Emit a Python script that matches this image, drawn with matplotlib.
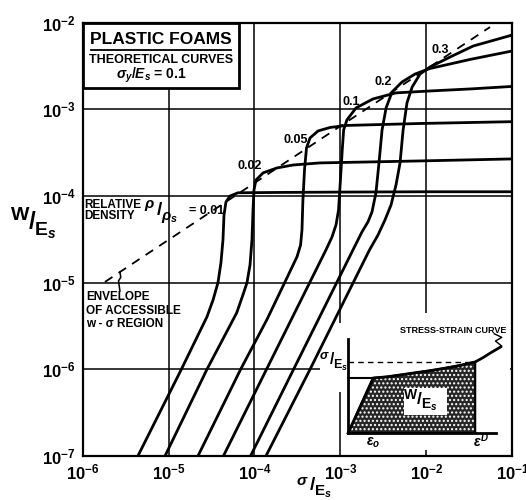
import matplotlib
matplotlib.use('Agg')
import matplotlib.pyplot as plt
from matplotlib import font_manager
from matplotlib.patches import Rectangle, Polygon

# condensed lettering if available
names = {f.name for f in font_manager.fontManager.ttflist}
face = 'Liberation Sans Narrow' if 'Liberation Sans Narrow' in names else 'Liberation Sans'
plt.rcParams['font.family'] = [face, 'DejaVu Sans']
plt.rcParams['font.weight'] = 'bold'
plt.rcParams['mathtext.fontset'] = 'custom'
plt.rcParams['mathtext.rm'] = face + ':bold'
plt.rcParams['mathtext.it'] = face + ':italic:bold'
plt.rcParams['mathtext.bf'] = face + ':bold'

# energy absorbed W/Es against peak stress sigma/Es, one curve per relative density
densities = ['0.01', '0.02', '0.05', '0.1', '0.2', '0.3']

sig_001 = [4.4e-6, 1.41e-5, 2.8e-5, 3.3e-5, 3.76e-5, 4.07e-5, 4.3e-5, 4.42e-5, 4.66e-5,
           5.19e-5, 6.43e-5, 2.0e-4, 1e-3, 1e-2, 1e-1]
w_001 = [1e-7, 1e-6, 4.04e-6, 6.34e-6, 1.0e-5, 1.69e-5, 3.12e-5, 6.05e-5, 8.55e-5,
         1.0e-4, 1.09e-4, 1.10e-4, 1.11e-4, 1.12e-4, 1.12e-4]

sig_002 = [9.1e-6, 2.8e-5, 6.21e-5, 7.34e-5, 8.18e-5, 8.87e-5, 9.35e-5, 9.62e-5, 9.86e-5,
           1.04e-4, 1.26e-4, 1.83e-4, 2.81e-4, 5.78e-4, 8.45e-3, 1e-1]
w_002 = [1e-7, 1e-6, 4.49e-6, 7.23e-6, 1.0e-5, 1.6e-5, 3.12e-5, 6.92e-5, 1.17e-4,
         1.53e-4, 1.85e-4, 2.11e-4, 2.28e-4, 2.41e-4, 2.54e-4, 2.68e-4]

sig_005 = [2.2e-5, 6.9e-5, 1.39e-4, 2.42e-4, 3.13e-4, 3.44e-4, 3.57e-4, 3.66e-4, 3.82e-4,
           4.03e-4, 4.43e-4, 5.48e-4, 7.57e-4, 1.16e-3, 8.45e-3, 1e-1]
w_005 = [1e-7, 1e-6, 3.72e-6, 1.17e-5, 2.0e-5, 2.73e-5, 4.06e-5, 9.0e-5, 2.0e-4,
         3.59e-4, 4.68e-4, 5.63e-4, 6.18e-4, 6.52e-4, 6.87e-4, 7.21e-4]

sig_01 = [4.35e-5, 1.38e-4, 6.79e-4, 7.98e-4, 8.89e-4, 9.51e-4, 1.0e-3, 1.05e-3, 1.09e-3,
          1.19e-3, 1.52e-3, 2.4e-3, 4.43e-3, 1.1e-2, 3.23e-2, 1e-1]
w_01 = [1e-7, 1e-6, 2.39e-5, 3.37e-5, 4.65e-5, 6.92e-5, 1.53e-4, 3.4e-4, 5.78e-4,
        7.55e-4, 1.04e-3, 1.32e-3, 1.55e-3, 1.63e-3, 1.72e-3, 1.84e-3]

sig_02 = [9.0e-5, 2.85e-4, 1.4e-3, 1.78e-3, 2.09e-3, 2.33e-3, 2.59e-3, 2.81e-3, 3.05e-3,
          3.4e-3, 3.99e-3, 5.21e-3, 7.4e-3, 1.1e-2, 3.23e-2, 1e-1]
w_02 = [1e-7, 1e-6, 2.39e-5, 3.85e-5, 5.02e-5, 6.55e-5, 1.09e-4, 2.41e-4, 5.78e-4,
        1.04e-3, 1.59e-3, 2.07e-3, 2.56e-3, 2.96e-3, 3.77e-3, 4.72e-3]

sig_03 = [1.36e-4, 4.43e-4, 2.18e-3, 2.74e-3, 3.3e-3, 3.88e-3, 4.43e-3, 4.94e-3, 5.36e-3,
          5.95e-3, 6.83e-3, 8.45e-3, 1.1e-2, 1.89e-2, 3.5e-2, 1e-1]
w_03 = [1e-7, 1e-6, 2.39e-5, 3.56e-5, 5.3e-5, 7.89e-5, 1.34e-4, 2.41e-4, 5.78e-4,
        1.19e-3, 1.81e-3, 2.56e-3, 3.08e-3, 4.02e-3, 5.38e-3, 7.21e-3]

# envelope of the accessible region
env_sig = [1.82e-6, 5.5e-2]
env_w = [1.02e-5, 8.9e-3]

# where each density label sits along the envelope
label_sig = [8.9e-5, 3.04e-4, 1.33e-3, 3.13e-3, 1.44e-2]
label_w = [2.22e-4, 4.44e-4, 1.22e-3, 2.07e-3, 4.84e-3]

# schematic stress-strain curve for the inset (strain, stress)
ss_strain = [0, 0.197, 0.31, 0.51, 0.65, 0.77, 0.88, 1.0, 1.06, 1.12, 1.2]
ss_stress = [0, 0.753, 0.77, 0.82, 0.855, 0.89, 0.925, 0.973, 1.03, 1.096, 1.178]
eps_0 = 0.197
eps_d = 1.0


def slant(axis, x, y, num, den, size, z=4):
    # numerator up-left, slash, denominator down-right
    kw = dict(xycoords='axes fraction', textcoords='offset points',
              ha='center', va='center', zorder=z)
    axis.annotate(num, (x, y), xytext=(-0.62 * size, 0.32 * size), fontsize=size, **kw)
    axis.annotate('/', (x, y), xytext=(0, 0), fontsize=size * 1.25, **kw)
    axis.annotate(den, (x, y), xytext=(0.7 * size, -0.42 * size), fontsize=size, **kw)


fig = plt.figure(figsize=(5.26, 5.0), dpi=100)
ax = fig.add_axes([0.157, 0.088, 0.817, 0.8666])
ax.set_xscale('log')
ax.set_yscale('log')
ax.set_xlim(1e-6, 1e-1)
ax.set_ylim(1e-7, 1e-2)
ax.set_xticks([1e-6, 1e-5, 1e-4, 1e-3, 1e-2, 1e-1])
ax.set_yticks([1e-7, 1e-6, 1e-5, 1e-4, 1e-3, 1e-2])
ax.minorticks_off()
ax.tick_params(length=0, labelsize=12, pad=5)
ax.set_axisbelow(True)
ax.grid(True, color='k', lw=1.1)
for s in ax.spines.values():
    s.set_linewidth(1.6)

curves = [(sig_001, w_001), (sig_002, w_002), (sig_005, w_005),
          (sig_01, w_01), (sig_02, w_02), (sig_03, w_03)]
for sx, wy in curves:
    ax.plot(sx, wy, color='k', lw=2.0, solid_joinstyle='round', zorder=2)

ax.plot(env_sig, env_w, color='k', lw=1.3, dashes=(5, 4), zorder=2)

for lab, lx, ly in zip(densities[1:], label_sig, label_w):
    ax.text(lx, ly, lab, fontsize=9, ha='center', va='center', zorder=4)

# title box
ax.add_patch(Rectangle((0, 0.849), 0.364, 0.151, transform=ax.transAxes,
                       fc='white', ec='k', lw=2, zorder=3))
ax.text(0.182, 0.962, 'PLASTIC FOAMS', transform=ax.transAxes, fontsize=12.5,
        ha='center', va='center', zorder=4)
ax.plot([0.02, 0.345], [0.937, 0.937], transform=ax.transAxes, color='k', lw=1.3, zorder=4)
ax.text(0.182, 0.915, 'THEORETICAL CURVES', transform=ax.transAxes, fontsize=9,
        ha='center', va='center', zorder=4)
ax.text(0.16, 0.878, r'$\sigma_y/E_s$ = 0.1', transform=ax.transAxes, fontsize=10,
        ha='center', va='center', zorder=4)

# relative density note
ax.text(0.003, 0.579, 'RELATIVE', transform=ax.transAxes, fontsize=8.5, va='center')
ax.text(0.003, 0.553, 'DENSITY', transform=ax.transAxes, fontsize=8.5, va='center')
slant(ax, 0.178, 0.566, r'$\rho$', r'$\rho_s$', 11)
ax.text(0.288, 0.566, '= 0.01', transform=ax.transAxes, fontsize=9, ha='center', va='center')

# envelope note with its leader
ax.text(0.008, 0.380, 'ENVELOPE\nOF ACCESSIBLE\nw - \u03c3 REGION', transform=ax.transAxes,
        fontsize=8.5, va='top', linespacing=1.15)
ax.plot([2.72e-6, 2.62e-6, 2.78e-6, 2.72e-6], [8.0e-6, 1.05e-5, 1.15e-5, 1.33e-5],
        color='k', lw=1.1)

# axis labels
slant(ax, -0.118, 0.54, 'W', r'E$_s$', 14)
slant(ax, 0.534, -0.068, r'$\sigma$', r'E$_s$', 11)

# white ground for the inset's stress label
ax.add_patch(Rectangle((0.552, 0.148), 0.06, 0.159, transform=ax.transAxes,
                       fc='white', ec='none', zorder=1.5))
slant(ax, 0.58, 0.222, r'$\sigma$', r'E$_s$', 9, z=6)

# inset: schematic stress-strain curve
ins = ax.inset_axes([0.611, 0.014, 0.384, 0.316])
ins.set_facecolor('white')
ins.set_xticks([])
ins.set_yticks([])
for s in ins.spines.values():
    s.set_visible(False)
ins.set_xlim(-0.024, 1.276)
ins.set_ylim(-0.233, 1.644)

n_fill = ss_strain.index(eps_d) + 1
poly = list(zip(ss_strain[:n_fill], ss_stress[:n_fill])) + [(eps_d, 0)]
ins.add_patch(Polygon(poly, closed=True, fc='0.15', ec='white', hatch='....', lw=0))
ins.add_patch(Polygon(poly, closed=True, fc='none', ec='k', lw=1.6))
ins.plot(ss_strain, ss_stress, color='k', lw=2)
ins.plot([0, 0], [0, 1.29], color='k', lw=2)
ins.plot([0, 1.165], [0, 0], color='k', lw=2)
ins.plot([0, eps_0], [ss_stress[1], ss_stress[1]], color='k', lw=1.5)
ins.plot([0, eps_d], [ss_stress[n_fill - 1]] * 2, color='k', lw=1, dashes=(4, 3))
ins.add_patch(Rectangle((0.44, 0.24), 0.34, 0.38, fc='white', ec='none', zorder=3))
slant(ins, 0.45, 0.37, 'W', r'E$_s$', 10)
ins.text(0.2, -0.13, r'$\epsilon_o$', fontsize=10, ha='center', va='center')
ins.text(1.05, -0.11, r'$\epsilon^D$', fontsize=10, ha='center', va='center')
ins.text(0.83, 1.41, 'STRESS-STRAIN CURVE', fontsize=6.5, ha='center', va='center')
ins.plot([1.15, 1.21, 1.16, 1.21], [1.36, 1.31, 1.26, 1.19], color='k', lw=1)

fig.savefig('out.png', dpi=100)
